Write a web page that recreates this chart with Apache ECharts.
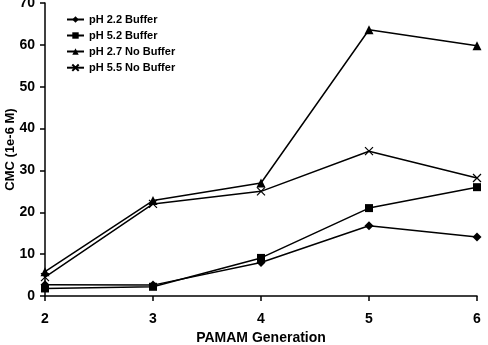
<!DOCTYPE html>
<html>
<head>
<meta charset="utf-8">
<script src="https://cdn.jsdelivr.net/npm/echarts@6/dist/echarts.min.js"></script>
<style>
html, body { margin: 0; padding: 0; background: #fff; }
#chart { width: 488px; height: 345px; }
</style>
</head>
<body>
<div id="chart"></div>
<script>
var generations = ['2', '3', '4', '5', '6']
var ph22Buffer = [2.7, 2.6, 8.0, 16.8, 14.1]
var ph52Buffer = [1.8, 2.2, 9.1, 21.0, 26.0]
var ph27NoBuffer = [5.8, 22.8, 27.0, 63.6, 59.8]
var ph55NoBuffer = [4.5, 22.0, 25.0, 34.6, 28.2]
var yTicks = [0, 10, 20, 30, 40, 50, 60, 70]

var chart = echarts.init(document.getElementById('chart'))
var font = 'Liberation Sans, Arial, sans-serif'

function makeSeries (name, data, symbol, size) {
  return {
    name: name,
    type: 'line',
    data: data,
    symbol: symbol,
    symbolSize: size,
    showAllSymbol: true,
    lineStyle: { color: '#000', width: 1.5 },
    itemStyle: { color: '#000', borderColor: '#000', borderWidth: 0 },
    emphasis: { disabled: true },
    animation: false
  }
}

var xSeries = makeSeries('pH 5.5 No Buffer', ph55NoBuffer, 'path://M0,0L10,10M10,0L0,10', 8)
xSeries.itemStyle = { color: 'none', borderColor: '#000', borderWidth: 1.2 }

var option = {
  backgroundColor: '#fff',
  grid: { left: 45, right: 11, top: 3, bottom: 49, outerBoundsMode: 'none', containLabel: false },
  legend: {
    orient: 'vertical',
    left: 61,
    top: 9,
    itemGap: 5,
    itemWidth: 17,
    itemHeight: 8,
    textStyle: { fontFamily: font, fontWeight: 'bold', fontSize: 11, color: '#000' },
    data: ['pH 2.2 Buffer', 'pH 5.2 Buffer', 'pH 2.7 No Buffer', 'pH 5.5 No Buffer']
  },
  xAxis: {
    type: 'category',
    data: generations,
    boundaryGap: false,
    name: 'PAMAM Generation',
    nameLocation: 'middle',
    nameGap: 34,
    nameTextStyle: { fontFamily: font, fontWeight: 'bold', fontSize: 14, color: '#000' },
    axisLine: { lineStyle: { color: '#000', width: 1.5 } },
    axisTick: { show: true, length: 5, lineStyle: { color: '#000', width: 1.5 } },
    axisLabel: { fontFamily: font, fontWeight: 'bold', fontSize: 14, color: '#000', margin: 16 },
    splitLine: { show: false }
  },
  yAxis: {
    type: 'value',
    min: yTicks[0],
    max: yTicks[yTicks.length - 1],
    interval: 10,
    name: 'CMC (1e-6 M)',
    nameLocation: 'middle',
    nameGap: 28,
    nameMoveOverlap: false,
    nameTextStyle: { fontFamily: font, fontWeight: 'bold', fontSize: 13, color: '#000' },
    axisLine: { show: true, lineStyle: { color: '#000', width: 1.5 } },
    axisTick: { show: true, length: 5, lineStyle: { color: '#000', width: 1.5 } },
    axisLabel: { fontFamily: font, fontWeight: 'bold', fontSize: 14, color: '#000', margin: 10 },
    splitLine: { show: false }
  },
  series: [
    makeSeries('pH 2.2 Buffer', ph22Buffer, 'diamond', 9),
    makeSeries('pH 5.2 Buffer', ph52Buffer, 'rect', 8),
    makeSeries('pH 2.7 No Buffer', ph27NoBuffer, 'triangle', 9),
    xSeries
  ]
}
chart.setOption(option)
</script>
</body>
</html>
